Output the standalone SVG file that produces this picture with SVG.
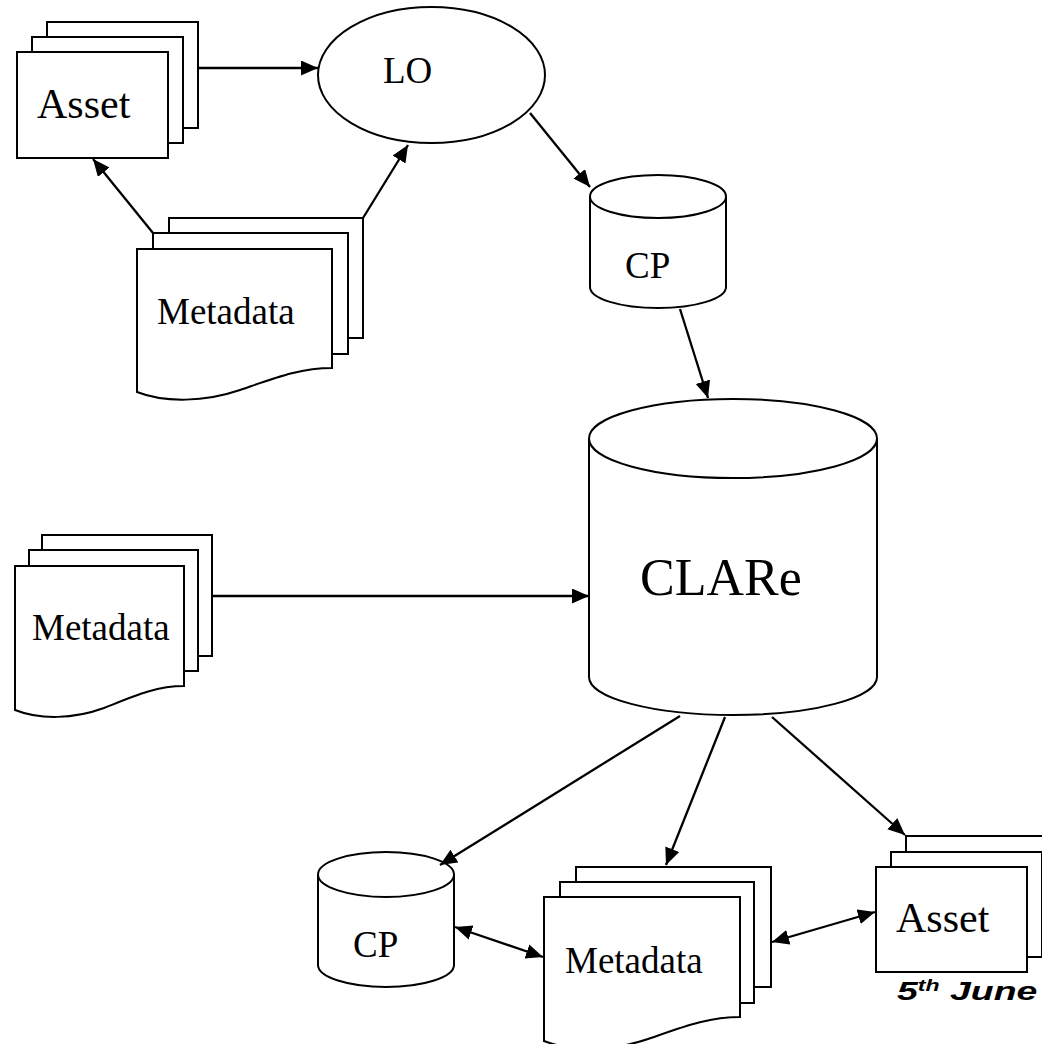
<svg xmlns="http://www.w3.org/2000/svg" width="1042" height="1044" viewBox="0 0 1042 1044">
<defs>
<style>
.s{fill:#fff;stroke:#000;stroke-width:2}
.c{fill:none;stroke:#000;stroke-width:2.3}
.t{font-family:"Liberation Serif","Times New Roman",serif;fill:#000}
</style>
<marker id="ah" markerUnits="userSpaceOnUse" markerWidth="19" markerHeight="17" refX="17" refY="7.5" orient="auto-start-reverse" viewBox="0 0 19 17">
<path d="M0,0 L17,7.5 L0,15 Z" fill="#000"/>
</marker>
</defs>
<rect width="1042" height="1044" fill="#fff"/>

<g id="asset-top">
<rect class="s" x="47" y="22" width="151" height="106"/>
<rect class="s" x="32" y="37" width="151" height="106"/>
<rect class="s" x="17" y="52" width="151" height="106"/>
<text class="t" x="37" y="118" font-size="42">Asset</text>
</g>

<g id="lo">
<ellipse class="s" cx="431.5" cy="75" rx="113.5" ry="68"/>
<text class="t" x="383" y="83" font-size="37">LO</text>
</g>

<g id="metadata-top">
<rect class="s" x="169" y="218" width="194" height="120"/>
<rect class="s" x="153" y="233" width="195" height="121"/>
<path class="s" d="M137,249 H332 V368 C300,368 275,378 240,390 C205,402 165,403 137,392 Z"/>
<text class="t" x="157" y="324" font-size="37">Metadata</text>
</g>

<g id="cp-top">
<path class="s" d="M590,196.5 V287 A68,21 0 0 0 726,287 V196.5"/>
<ellipse class="s" cx="658" cy="196.5" rx="68" ry="21.5"/>
<text class="t" x="625" y="278" font-size="37">CP</text>
</g>

<g id="clare">
<path class="s" d="M589,438.5 V677 A144,38 0 0 0 877,677 V438.5"/>
<ellipse class="s" cx="733" cy="438.5" rx="144" ry="39.5"/>
<text class="t" x="640" y="595" font-size="52">CLARe</text>
</g>

<g id="metadata-left">
<rect class="s" x="42" y="535" width="170" height="121"/>
<rect class="s" x="29" y="550" width="169" height="121"/>
<path class="s" d="M15,566 H184 V686 C156,686 134,696 104,708 C74,719 40,720 15,710 Z"/>
<text class="t" x="32" y="640" font-size="37">Metadata</text>
</g>

<g id="cp-bottom">
<path class="s" d="M318,874.5 V965 A68,22 0 0 0 454,965 V874.5"/>
<ellipse class="s" cx="386" cy="874.5" rx="68" ry="22.5"/>
<text class="t" x="353" y="957" font-size="37">CP</text>
</g>

<g id="metadata-bottom">
<rect class="s" x="576" y="867" width="195" height="120"/>
<rect class="s" x="560" y="882" width="194" height="121"/>
<path class="s" d="M544,897 H740 V1017 C708,1017 683,1027 648,1039 C613,1051 572,1052 544,1041 Z"/>
<text class="t" x="565" y="973" font-size="37">Metadata</text>
</g>

<g id="asset-bottom">
<rect class="s" x="906" y="836" width="151" height="106"/>
<rect class="s" x="891" y="852" width="151" height="105"/>
<rect class="s" x="876" y="867" width="151" height="105"/>
<text class="t" x="896" y="932" font-size="42">Asset</text>
</g>

<g id="date">
<text transform="translate(897,1000) scale(1.44,1)" font-family="'Liberation Sans',Arial,sans-serif" font-weight="bold" font-style="italic" font-size="26" fill="#000">5<tspan font-size="16" dy="-9">th</tspan><tspan dy="9"> June</tspan></text>
</g>

<g id="connectors">
<line class="c" x1="198" y1="68" x2="318" y2="68" marker-end="url(#ah)"/>
<line class="c" x1="153" y1="233" x2="93" y2="159" marker-end="url(#ah)"/>
<line class="c" x1="363" y1="218" x2="408" y2="145" marker-end="url(#ah)"/>
<line class="c" x1="530" y1="113" x2="590" y2="187" marker-end="url(#ah)"/>
<line class="c" x1="680" y1="309" x2="708" y2="398" marker-end="url(#ah)"/>
<line class="c" x1="212" y1="596" x2="589" y2="596" marker-end="url(#ah)"/>
<line class="c" x1="680" y1="716" x2="440" y2="865" marker-end="url(#ah)"/>
<line class="c" x1="725" y1="717" x2="666" y2="865" marker-end="url(#ah)"/>
<line class="c" x1="772" y1="717" x2="905" y2="835" marker-end="url(#ah)"/>
<line class="c" x1="455" y1="927" x2="543" y2="957" marker-start="url(#ah)" marker-end="url(#ah)"/>
<line class="c" x1="772" y1="942" x2="875" y2="912" marker-start="url(#ah)" marker-end="url(#ah)"/>
</g>
</svg>
